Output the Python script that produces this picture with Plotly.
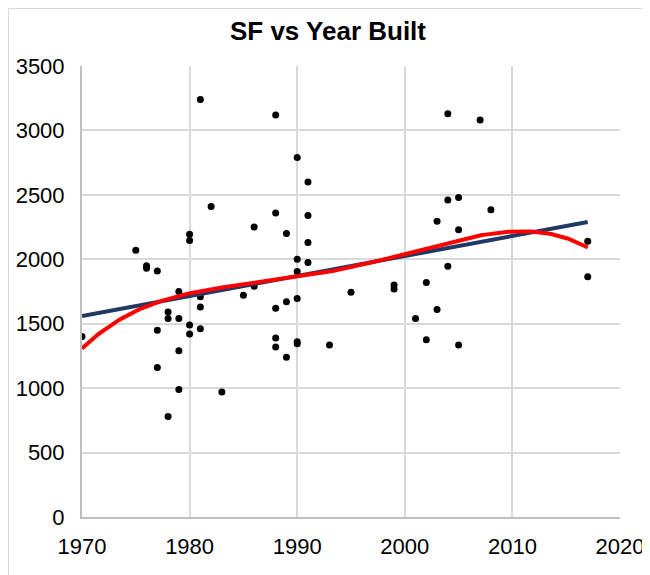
import numpy as np
import plotly.graph_objects as go

years = [1970, 1975, 1976, 1976, 1977, 1977, 1977, 1978, 1978, 1978,
         1979, 1979, 1979, 1979, 1980, 1980, 1980, 1980, 1981, 1981,
         1981, 1981, 1982, 1983, 1985, 1986, 1986, 1988, 1988, 1988,
         1988, 1988, 1989, 1989, 1989, 1990, 1990, 1990, 1990, 1990,
         1990, 1991, 1991, 1991, 1991, 1993, 1995, 1999, 1999, 2001,
         2002, 2002, 2003, 2003, 2004, 2004, 2004, 2005, 2005, 2005,
         2007, 2008, 2017, 2017]
sqft = [1400, 2070, 1950, 1930, 1910, 1450, 1160, 1590, 1540, 780,
        1750, 1540, 1290, 990, 2195, 2145, 1490, 1420, 3240, 1710,
        1630, 1460, 2410, 970, 1720, 2250, 1790, 3120, 2360, 1620,
        1390, 1320, 2200, 1670, 1240, 2790, 2000, 1905, 1695, 1360,
        1345, 2600, 2340, 2130, 1975, 1335, 1745, 1800, 1770, 1540,
        1820, 1375, 2295, 1610, 3130, 2460, 1945, 2480, 2230, 1335,
        3080, 2385, 2140, 1865]

x_ticks = [1970, 1980, 1990, 2000, 2010, 2020]
y_ticks = [0, 500, 1000, 1500, 2000, 2500, 3000, 3500]

x = np.array(years, dtype=float)
y = np.array(sqft, dtype=float)
xs = np.linspace(x.min(), x.max(), 200)
xc = x - 1990
lin = np.polyfit(xc, y, 1)
poly = np.polyfit(xc, y, 4)

fig = go.Figure()
fig.add_trace(go.Scatter(x=years, y=sqft, mode="markers",
                         marker=dict(color="black", size=7), showlegend=False))
fig.add_trace(go.Scatter(x=xs, y=np.polyval(lin, xs - 1990), mode="lines",
                         line=dict(color="#203864", width=4), showlegend=False))
fig.add_trace(go.Scatter(x=xs, y=np.polyval(poly, xs - 1990), mode="lines",
                         line=dict(color="#ff0000", width=4), showlegend=False))

font = "Liberation Sans, Arial, sans-serif"
fig.update_layout(
    width=642, height=567,
    margin=dict(l=74, r=30, t=58, b=58),
    paper_bgcolor="white", plot_bgcolor="white",
    title=dict(text="<b>SF vs Year Built</b>", x=0.4984, xanchor="center",
               y=0.96, yanchor="middle",
               font=dict(family=font, size=26, color="black")),
    font=dict(family=font, size=22, color="black"),
    xaxis=dict(range=[1970, 2020], tickvals=x_ticks, showgrid=True,
               gridcolor="#d9d9d9", gridwidth=2, zeroline=False,
               showline=True, linecolor="#bfbfbf", linewidth=2,
               ticks="", ticklabelstandoff=9, automargin=False),
    yaxis=dict(range=[0, 3500], tickvals=y_ticks, showgrid=True,
               gridcolor="#d9d9d9", gridwidth=2, zeroline=False,
               showline=True, linecolor="#bfbfbf", linewidth=2,
               ticks="", ticklabelstandoff=11, automargin=False),
    shapes=[dict(type="rect", xref="paper", yref="paper",
                 x0=-0.1366, x1=1.2, y0=-0.3, y1=1.1275,
                 line=dict(color="#d9d9d9", width=1), layer="below")],
)
fig.write_html("out.html")
